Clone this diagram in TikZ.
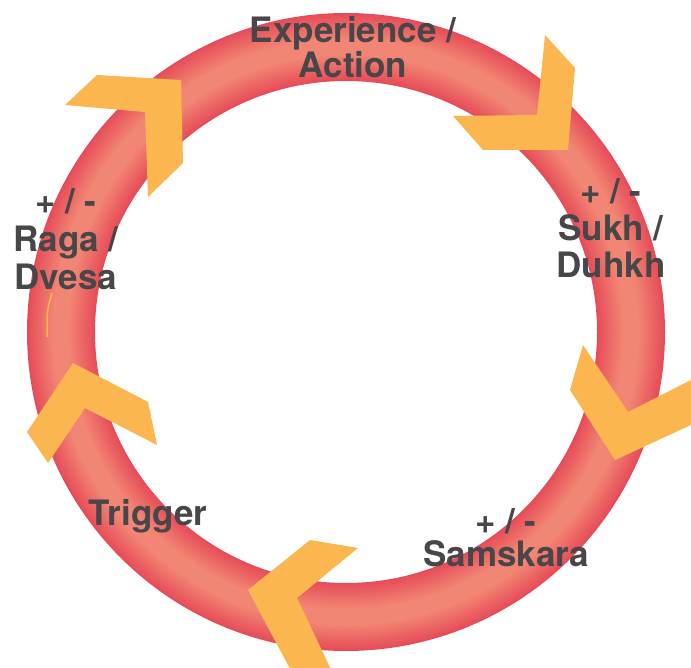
\documentclass[tikz,border=0pt]{standalone}
\usepackage{fontspec}
\setmainfont{TeX Gyre Heros}
\definecolor{ringdark}{RGB}{230,76,88}
\definecolor{ringlight}{RGB}{242,134,116}
\definecolor{arrowgold}{RGB}{251,182,80}
\definecolor{labelgray}{RGB}{72,70,72}

\begin{document}
\begin{tikzpicture}[x=1pt,y=-1pt,
	chevron/.style={fill=arrowgold},
	cyclelbl/.style={font=\bfseries\fontsize{35}{37}\selectfont, text=labelgray, align=center, inner sep=0pt, anchor=base}]

	\useasboundingbox (0,0) rectangle (691,668);
	\coordinate (hub) at (346,332);

	% the ring, lighter towards its middle
	\foreach \i [evaluate=\i as \w using 68-2.6*\i, evaluate=\i as \m using int(5*\i)] in {0,...,20}
		\draw[line width=\w pt, ringlight!\m!ringdark] (hub) circle[radius=285];
	\draw[arrowgold, line width=1.5pt] (52,293) .. controls (47,310) .. (47,337);

	% chevrons
	\fill[chevron] (97,75) -- (181,80) -- (183,163) -- (148,197) -- (145,112) -- (65,105) -- cycle;
	\fill[chevron] (545,35) -- (575,68) -- (568,150) -- (483,150) -- (453,116) -- (537,115) -- cycle;
	\fill[chevron] (583,345) -- (628,412) -- (691,380) -- (691,425) -- (615,460) -- (570,390) -- cycle;
	\fill[chevron] (310,540) -- (358,548) -- (297,598) -- (336,680) -- (296,680) -- (248,590) -- cycle;
	\fill[chevron] (73,363) -- (148,402) -- (157,445) -- (85,408) -- (48,463) -- (27,432) -- cycle;

	% labels (base = last line)
	\node[cyclelbl] (action)   at (353,78)  {Experience /\\[-2pt]Action};
	\node[cyclelbl] (sukh)     at (611,278) {+ / -\\Sukh /\\Duhkh};
	\node[cyclelbl] (samskara) at (506,566) {+ / -\\[-4pt]Samskara};
	\node[cyclelbl] (trigger)  at (148,525) {Trigger};
	\node[cyclelbl] (raga)     at (66,290)  {+ / -\\[1pt]Raga /\\[1pt]Dvesa};

\end{tikzpicture}
\end{document}
